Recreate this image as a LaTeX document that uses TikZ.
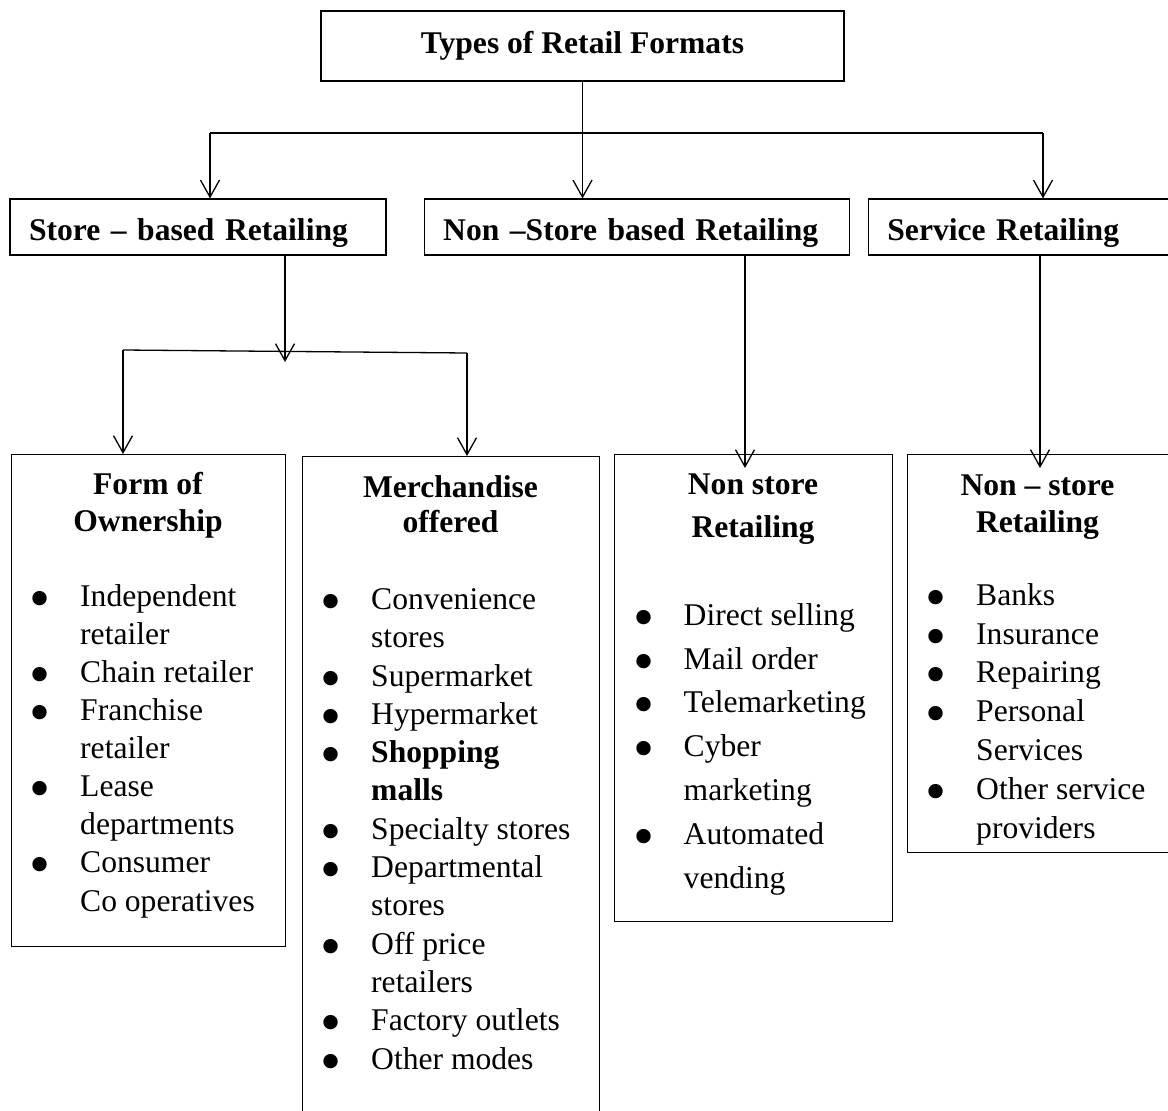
\documentclass[tikz,border=0pt]{standalone}
\usepackage{fontspec}
\setmainfont{Liberation Serif}
\usepackage{tikz}
\usetikzlibrary{arrows.meta, positioning}

\newcommand{\itm}{\makebox[47.5pt][l]{\hspace*{-3pt}\smash{\raisebox{-12pt}{\scalebox{1.9}{\textbullet}}}}}
\newcommand{\cnt}{\hspace*{47.5pt}}

\begin{document}
\begin{tikzpicture}[
			x=1pt, y=1pt,
			node distance=37pt,
			top/.style={rectangle, draw=black, line width=1.2pt, minimum width=523pt, minimum height=70pt, inner sep=0pt, font=\bfseries\fontsize{31.6pt}{38pt}\selectfont},
			kind/.style={rectangle, draw=black, line width=1.2pt, minimum height=56pt, inner xsep=19pt, inner ysep=0pt, align=left, text height=26pt, text depth=0pt, font=\bfseries\fontsize{31.6pt}{38pt}\selectfont},
			group/.style={rectangle, draw=black, line width=1.2pt, anchor=north west, inner sep=0pt},
			head/.style={anchor=base, align=center, inner sep=0pt, font=\bfseries\fontsize{31.6pt}{#1}\selectfont},
			items/.style={anchor=base west, align=left, inner sep=0pt, font=\fontsize{31.6pt}{#1}\selectfont},
			link/.style={line width=1.3pt},
			bar/.style={line width=2pt},
			arrow/.style={line width=1.3pt, -{Straight Barb[length=17pt, width=19pt, line width=1.3pt]}}
			]
			\useasboundingbox (0,0) rectangle (1168,-1111);
			
			% Top
			\node (formats) [top] at (582.5,-46) {Types of Retail Formats};
			
			% Second row
			\node (store) [kind, text width=338pt] at (198,-227) {Store -- based Retailing};
			\node (nonstore) [kind, text width=387pt, right=of store] {Non --Store based Retailing};
			\node (service) [kind, text width=262pt, right=18pt of nonstore] {Service Retailing};
			
			% Third row boxes
			\node (own) [group, minimum width=274pt, minimum height=492pt] at (11,-454) {};
			\node (merch) [group, minimum width=297pt, minimum height=690pt] at (302,-456) {};
			\node (nsr) [group, minimum width=278pt, minimum height=467pt] at (614,-454) {};
			\node (svc) [group, minimum width=263pt, minimum height=398pt] at (907,-454) {};
			
			% Headings (base = last line)
			\node (ownhead) [head=37pt] at (148,-531) {Form of\\Ownership};
			\node (merchhead) [head=35pt] at (450.5,-532) {Merchandise\\offered};
			\node (nsrhead) [head=43pt] at (753,-537) {Non store\\Retailing};
			\node (svchead) [head=37pt] at (1037.5,-532) {Non -- store\\Retailing};
			
			% Lists (base = last line)
			\node (ownlist) [items=38.1pt] at (32.5,-911) {\itm Independent\\ \cnt retailer\\ \itm Chain retailer\\ \itm Franchise\\ \cnt retailer\\ \itm Lease\\ \cnt departments\\ \itm Consumer\\ \cnt Co operatives};
			\node (merchlist) [items=38.3pt] at (323.5,-1069) {\itm Convenience\\ \cnt stores\\ \itm Supermarket\\ \itm Hypermarket\\ \itm \textbf{Shopping}\\ \cnt \textbf{malls}\\ \itm Specialty stores\\ \itm Departmental\\ \cnt stores\\ \itm Off price\\ \cnt retailers\\ \itm Factory outlets\\ \itm Other modes};
			\node (nsrlist) [items=43.8pt] at (636,-888) {\itm Direct selling\\ \itm Mail order\\ \itm Telemarketing\\ \itm Cyber\\ \cnt marketing\\ \itm Automated\\ \cnt vending};
			\node (svclist) [items=38.8pt] at (928.5,-838) {\itm Banks\\ \itm Insurance\\ \itm Repairing\\ \itm Personal\\ \cnt Services\\ \itm Other service\\ \cnt providers};
			
			% Junctions
			\coordinate (barL) at (210,-133);
			\coordinate (barR) at (1043,-133);
			\coordinate (fork) at (285,-362);
			\coordinate (forkL) at (123,-350);
			\coordinate (forkR) at (467,-353);
			\coordinate (nsrin) at (745,-468);
			\coordinate (svcin) at (1040,-468);
			
			% Connections
			\draw [link] (formats.south) -- (formats.south |- barL);
			\draw [bar] (barL) -- (barR);
			\draw [arrow] (barL) -- (barL |- store.north);
			\draw [arrow] (formats.south |- barL) -- (formats.south |- nonstore.north);
			\draw [arrow] (barR) -- (barR |- service.north);
			
			\draw [arrow] (fork |- store.south) -- (fork);
			\draw [link] (forkL) -- (forkR);
			\draw [arrow] (forkL) -- (forkL |- own.north);
			\draw [arrow] (forkR) -- (forkR |- merch.north);
			
			\draw [arrow] (nsrin |- nonstore.south) -- (nsrin);
			\draw [arrow] (svcin |- service.south) -- (svcin);
			
		\end{tikzpicture}
\end{document}
